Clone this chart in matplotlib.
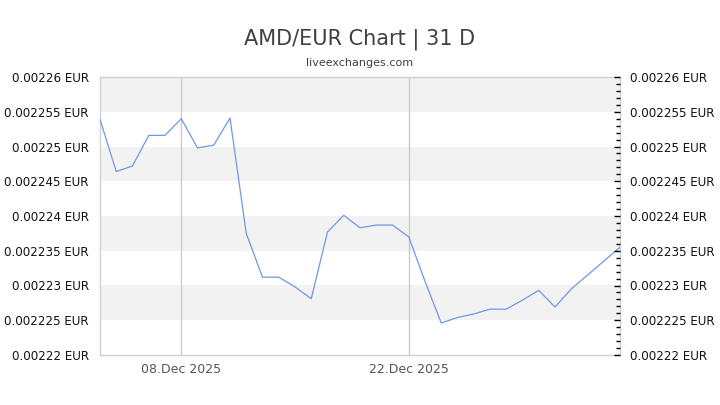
import numpy as np
import pandas as pd
import matplotlib
matplotlib.use('Agg')
import matplotlib.pyplot as plt
import matplotlib.dates as mdates
from matplotlib.ticker import MultipleLocator, FuncFormatter

# daily AMD/EUR rates, 03.Dec 2025 .. 04.Jan 2026
dates = pd.date_range('2025-12-03', '2026-01-04', freq='D')
rates = [0.0022539, 0.0022464, 0.0022472, 0.0022516, 0.0022516, 0.0022540,
         0.0022498, 0.0022502, 0.0022541, 0.0022375, 0.0022312, 0.0022312,
         0.0022298, 0.0022281, 0.0022377, 0.0022401, 0.0022383, 0.0022387,
         0.0022387, 0.0022370, 0.0022306, 0.0022246, 0.0022254, 0.0022259,
         0.0022266, 0.0022266, 0.0022279, 0.0022293, 0.0022269, 0.0022295,
         0.0022315, 0.0022335, 0.0022355]
y_ticks = [0.00222, 0.002225, 0.00223, 0.002235, 0.00224,
           0.002245, 0.00225, 0.002255, 0.00226]
x_ticks = ['2025-12-08', '2025-12-22']
x_labels = ['08.Dec 2025', '22.Dec 2025']

fig = plt.figure(figsize=(7.2, 4.05), dpi=100)
ax = fig.add_axes([100/720, 50/405, 520/720, 278/405])

# alternating bands
for i in range(len(y_ticks) - 1):
    if i % 2 == 1:
        ax.axhspan(y_ticks[i], y_ticks[i + 1], color='#f2f2f2', lw=0, zorder=0)

for d in x_ticks:
    ax.axvline(pd.Timestamp(d), color='#cccccc', lw=1, zorder=1)

ax.plot(dates, rates, color='#6f98e8', lw=0.9, zorder=3)

ax.set_xlim(dates[0], dates[-1])
ax.set_ylim(y_ticks[0], y_ticks[-1])
ax.set_xticks([pd.Timestamp(d) for d in x_ticks])
ax.set_xticklabels(x_labels, color='#555555', fontsize=9)
ax.tick_params(axis='x', length=0, pad=6)

fmt = FuncFormatter(lambda v, p: f'{v:.7f}'.rstrip('0') + ' EUR')
ax.set_yticks(y_ticks)
ax.yaxis.set_major_formatter(fmt)
ax.tick_params(axis='y', length=0, pad=8, labelsize=8.6, labelcolor='#111111')

for s in ax.spines.values():
    s.set_color('#d0d0d0')
    s.set_linewidth(1)

ax2 = ax.twinx()
ax2.set_ylim(y_ticks[0], y_ticks[-1])
ax2.set_yticks(y_ticks)
ax2.yaxis.set_major_formatter(fmt)
ax2.yaxis.set_minor_locator(MultipleLocator(0.000001))
ax2.tick_params(axis='y', which='major', direction='in', length=4, width=1,
                color='black', pad=7.5, labelsize=8.6, labelcolor='#111111')
ax2.tick_params(axis='y', which='minor', direction='in', length=3, width=1,
                color='black')
for s in ax2.spines.values():
    s.set_visible(False)

fig.text(0.5, 1 - 39/405, 'AMD/EUR Chart | 31 D', ha='center', va='center',
         fontsize=15, color='#404040')
fig.text(0.5, 1 - 63/405, 'liveexchanges.com', ha='center', va='center',
         fontsize=8, color='#404040')

fig.savefig('out.png', dpi=100)
